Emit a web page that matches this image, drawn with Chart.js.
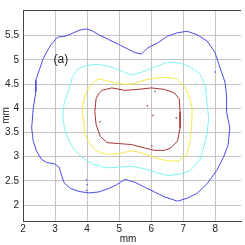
<!DOCTYPE html>
<html>
<head>
<meta charset="utf-8">
<script src="https://cdn.jsdelivr.net/npm/chart.js@4"></script>
<style>
  html, body { margin: 0; padding: 0; background: #fff; }
  #wrap { width: 245px; height: 245px; }
</style>
</head>
<body>
<div id="wrap"><canvas id="chart" width="245" height="245"></canvas></div>
<script>
// tick labels
const xTicks = [2, 3, 4, 5, 6, 7, 8];
const yTicks = [2, 2.5, 3, 3.5, 4, 4.5, 5, 5.5];

// contour lines (mm)
const blueX = [3.97, 3.75, 3.34, 3.08, 2.88, 2.73, 2.62, 2.52, 2.40, 2.40, 2.32, 2.27, 2.32, 2.42, 2.57, 2.73, 2.98, 3.13, 3.19, 3.29, 3.49, 3.75, 4.06, 4.36, 4.67, 4.92, 5.18, 5.49, 5.79, 6.10, 6.41, 6.82, 7.12, 7.43, 7.74, 8.04, 8.25, 8.40, 8.45, 8.35, 8.35, 8.30, 8.14, 7.99, 7.74, 7.43, 7.12, 6.82, 6.51, 6.20, 5.90, 5.69, 5.49, 5.28, 4.98, 4.67, 4.36, 4.16, 3.97];
const blueY = [5.64, 5.61, 5.49, 5.47, 5.32, 5.15, 5.01, 4.81, 4.58, 4.34, 4.00, 3.59, 3.32, 3.12, 2.95, 2.88, 2.85, 2.78, 2.64, 2.45, 2.34, 2.28, 2.25, 2.27, 2.34, 2.42, 2.53, 2.47, 2.37, 2.27, 2.17, 2.08, 2.14, 2.24, 2.44, 2.71, 2.98, 3.25, 3.59, 3.93, 4.27, 4.54, 4.85, 5.15, 5.39, 5.52, 5.59, 5.56, 5.49, 5.35, 5.25, 5.12, 5.15, 5.22, 5.32, 5.42, 5.52, 5.60, 5.64];

const cyanX = [3.95, 4.36, 4.77, 5.18, 5.38, 5.69, 6.10, 6.51, 6.92, 7.22, 7.53, 7.68, 7.74, 7.79, 7.74, 7.63, 7.53, 7.22, 6.92, 6.51, 6.20, 5.79, 5.38, 4.98, 4.57, 4.16, 3.85, 3.60, 3.44, 3.29, 3.24, 3.29, 3.44, 3.54, 3.70, 3.95];
const cyanY = [4.88, 4.91, 4.85, 4.74, 4.69, 4.74, 4.85, 4.95, 4.93, 4.85, 4.71, 4.47, 4.13, 3.79, 3.46, 3.18, 2.95, 2.71, 2.64, 2.61, 2.66, 2.75, 2.80, 2.78, 2.77, 2.85, 2.98, 3.15, 3.32, 3.59, 3.86, 4.13, 4.40, 4.64, 4.81, 4.88];

const yellowX = [4.36, 4.77, 5.18, 5.49, 5.79, 6.10, 6.51, 6.82, 7.02, 7.17, 7.28, 7.26, 7.21, 7.12, 6.87, 6.51, 6.10, 5.69, 5.38, 4.98, 4.57, 4.26, 4.06, 3.93, 3.90, 3.85, 3.90, 4.00, 4.16, 4.36];
const yellowY = [4.61, 4.54, 4.49, 4.51, 4.58, 4.62, 4.64, 4.60, 4.47, 4.27, 4.00, 3.66, 3.32, 3.05, 2.91, 2.91, 2.98, 3.08, 3.12, 3.06, 3.05, 3.13, 3.29, 3.46, 3.66, 3.93, 4.20, 4.37, 4.51, 4.61];

const redX = [4.46, 4.77, 5.18, 5.59, 6.00, 6.41, 6.71, 6.87, 6.90, 6.90, 6.82, 6.61, 6.41, 6.10, 5.79, 5.38, 4.98, 4.62, 4.41, 4.28, 4.24, 4.28, 4.36, 4.46];
const redY = [4.37, 4.42, 4.37, 4.39, 4.42, 4.39, 4.32, 4.20, 3.93, 3.59, 3.32, 3.18, 3.13, 3.13, 3.18, 3.25, 3.27, 3.29, 3.42, 3.66, 3.93, 4.20, 4.30, 4.37];

// stray specks
const redDotX = [6.12, 5.88, 6.05, 4.40, 6.02, 6.78];
const redDotY = [4.35, 4.05, 3.85, 3.72, 3.22, 3.80];
const blueDotX = [3.98, 4.00, 3.98, 7.99];
const blueDotY = [2.52, 2.42, 2.30, 4.75];
const cyanDotX = [7.40, 7.48];
const cyanDotY = [4.52, 3.00];

const pts = (xs, ys) => xs.map((x, i) => ({ x: x, y: ys[i] }));
const line = (xs, ys, color) => ({
  data: pts(xs, ys), showLine: true, borderColor: color, borderWidth: 1,
  pointRadius: 0, fill: false, tension: 0
});
const dots = (xs, ys, color) => ({
  data: pts(xs, ys), showLine: false, backgroundColor: color,
  borderColor: color, pointRadius: 0.8, borderWidth: 0
});

const blue = '#4b4be6';
const cyan = '#7ff5f0';
const yellow = '#f2e84a';
const red = '#a83535';

const extras = {
  id: 'extras',
  afterDraw(chart) {
    const c = chart.ctx, a = chart.chartArea;
    c.save();
    c.strokeStyle = '#444';
    c.lineWidth = 1;
    c.beginPath();
    c.moveTo(a.left, a.top + 0.5);
    c.lineTo(a.right, a.top + 0.5);
    c.stroke();
    c.fillStyle = '#222';
    c.font = '12px "Liberation Sans", Arial, sans-serif';
    c.textAlign = 'center';
    c.textBaseline = 'middle';
    c.fillText('(a)', chart.scales.x.getPixelForValue(3.18), chart.scales.y.getPixelForValue(5.0));
    c.font = '10px "Liberation Sans", Arial, sans-serif';
    c.fillText('mm', 128, 239);
    c.restore();
  }
};

const tickFont = { family: '"Liberation Sans", Arial, sans-serif', size: 10 };

new Chart(document.getElementById('chart'), {
  type: 'scatter',
  data: {
    datasets: [
      line(blueX, blueY, blue),
      line(cyanX, cyanY, cyan),
      line(yellowX, yellowY, yellow),
      line(redX, redY, red),
      dots(blueDotX, blueDotY, blue),
      dots(cyanDotX, cyanDotY, cyan),
      dots(redDotX, redDotY, red)
    ]
  },
  options: {
    responsive: false,
    animation: false,
    layout: { padding: { top: 6, right: 0, left: 0, bottom: 0 } },
    plugins: { legend: { display: false }, tooltip: { enabled: false } },
    scales: {
      x: {
        type: 'linear', min: 2, max: 8.8,
        afterBuildTicks: s => { s.ticks = xTicks.map(v => ({ value: v })); },
        afterFit: s => { s.height = 24; },
        ticks: { color: '#222', font: tickFont, padding: 2, maxRotation: 0, callback: v => String(v) },
        grid: { color: '#c4c4c4', borderDash: [1, 2], drawTicks: false },
        border: { color: '#444', width: 1 }
      },
      y: {
        type: 'linear', min: 1.67, max: 6.03,
        afterBuildTicks: s => { s.ticks = yTicks.map(v => ({ value: v })); },
        afterFit: s => { s.width = 23; },
        ticks: { color: '#222', font: tickFont, padding: 4, callback: v => String(v) },
        grid: { color: '#c4c4c4', borderDash: [1, 2], drawTicks: false },
        border: { color: '#444', width: 1 },
        title: { display: true, text: 'mm', color: '#222', font: tickFont, padding: 0 }
      }
    }
  },
  plugins: [extras]
});
</script>
</body>
</html>
